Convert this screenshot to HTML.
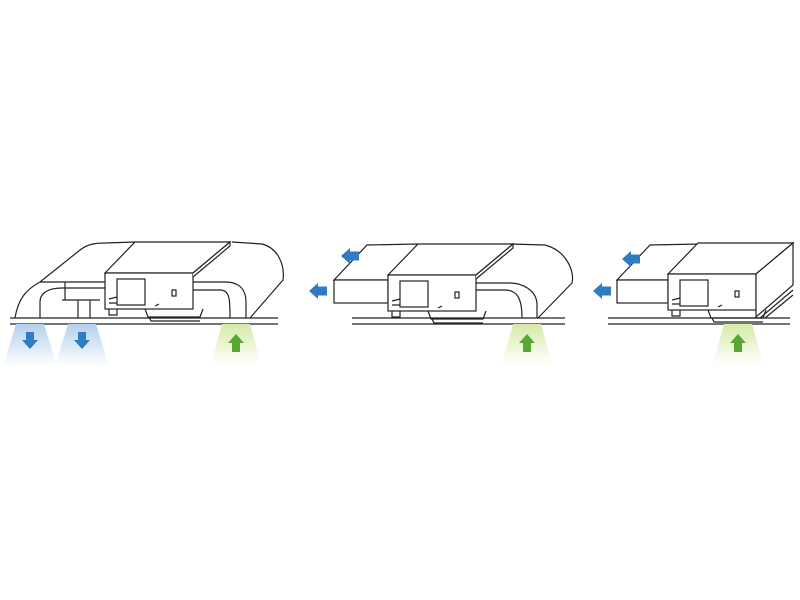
<!DOCTYPE html>
<html><head><style>body{margin:0;background:#fff}svg{display:block}</style></head><body>
<svg width="800" height="600" viewBox="0 0 800 600" xmlns="http://www.w3.org/2000/svg">
<defs>
<linearGradient id="bl" x1="0" y1="0" x2="0" y2="1"><stop offset="0" stop-color="#b3d0ec"/><stop offset="1" stop-color="#fff"/></linearGradient>
<linearGradient id="gr" x1="0" y1="0" x2="0" y2="1"><stop offset="0" stop-color="#d5eaa8"/><stop offset="1" stop-color="#fff"/></linearGradient>
<g id="unit" fill="#fff" stroke="#222" stroke-width="1.2">
<path d="M0,0 L30,-31 L125,-31 L88,0 Z"/>
<rect x="0" y="0" width="88" height="36"/>
<path d="M88,0 L125,-31 L125,-27 L88,4"/>
<rect x="12" y="6" width="28" height="26" fill="none"/>
<rect x="67" y="17" width="4" height="6" fill="none"/>
<path d="M4,30 L12,30 M4,26 L12,24 M4,36 L4,42 L12,42 L12,36" fill="none"/>
<path d="M40,36 L43,44 L95,44 L98,36 M44,44 L46,48 L95,48" fill="none"/>
<path d="M50,33 L54,31" fill="none"/>
</g>
<g id="cone"><polygon points="-14,0 14,0 27,42 -27,42" fill="url(#bl)"/></g>
<g id="gcone"><polygon points="-14,0 14,0 25,40 -25,40" fill="url(#gr)"/></g>
<path id="dn" d="M-4,-8 L4,-8 L4,0 L8,0 L0,9 L-8,0 L-4,0 Z" fill="#2f7cc2"/>
<path id="up" d="M-4,9 L4,9 L4,0 L8,0 L0,-9 L-8,0 L-4,0 Z" fill="#5aa831"/>
<path id="lf" d="M9,-4.5 L9,4.5 L0,4.5 L0,8 L-9,0 L0,-8 L0,-4.5 Z" fill="#2f7cc2"/>
</defs>

<!-- Diagram 1 -->
<g stroke="#222" stroke-width="1.2" fill="none">
<line x1="10" y1="318" x2="278" y2="318"/><line x1="10" y1="324" x2="278" y2="324"/>
<path d="M15,318 C18,300 25,290 40,282 L80,250 C88,244 95,243 105,243 L135,242" fill="#fff"/>
<path d="M40,318 L40,302 C40,292 50,288 62,288 L105,288"/>
<line x1="40" y1="282" x2="105" y2="282"/>
<line x1="65" y1="282" x2="65" y2="300"/>
<path d="M62,300 L100,300 M78,300 L78,318 M90,300 L90,318"/>
<path d="M232,242 L262,244 C278,248 285,265 283,280 L250,318"/>
<path d="M193,282 L225,282 C240,282 246,290 246,302 L246,318"/>
<path d="M193,290 L220,290 C230,290 230,300 230,318"/>
</g>
<use href="#unit" x="105" y="273"/>
<use href="#cone" x="30" y="324"/><use href="#cone" x="82" y="324"/>
<use href="#dn" x="30" y="340"/><use href="#dn" x="82" y="340"/>
<use href="#gcone" x="236" y="324"/><use href="#up" x="236" y="343"/>

<!-- Diagram 2 -->
<g stroke="#222" stroke-width="1.2" fill="none">
<line x1="352" y1="318" x2="565" y2="318"/><line x1="352" y1="324" x2="565" y2="324"/>
<path d="M334,280 L367,245 L418,244 L418,250 L388,280 Z" fill="#fff"/>
<rect x="334" y="280" width="54" height="23" fill="#fff"/>
<path d="M510,244 L545,245 C565,250 575,270 572,283 L538,318"/>
<path d="M475,283 L510,283 C522,283 537,290 537,305 L537,318"/>
<path d="M475,290 L505,290 C517,290 522,298 522,318"/>
</g>
<use href="#unit" x="388" y="275"/>
<use href="#lf" x="350" y="256"/><use href="#lf" x="318" y="291"/>
<use href="#gcone" x="527" y="324"/><use href="#up" x="527" y="343"/>

<!-- Diagram 3 -->
<g stroke="#222" stroke-width="1.2" fill="none">
<line x1="608" y1="318" x2="790" y2="318"/><line x1="608" y1="324" x2="790" y2="324"/>
<path d="M617,280 L650,245 L700,244 L700,250 L668,280 Z" fill="#fff"/>
<rect x="617" y="280" width="51" height="23" fill="#fff"/>
</g>
<use href="#unit" x="668" y="274"/>
<g stroke="#222" stroke-width="1.2" fill="#fff">
<path d="M756,274 L793,243 L793,285 L756,317 Z"/>
<path d="M760,318 L793,290 M765,318 L793,295"/>
</g>
<use href="#lf" x="631" y="259"/><use href="#lf" x="602" y="291"/>
<use href="#gcone" x="738" y="324"/><use href="#up" x="738" y="343"/>
</svg>
</body></html>
